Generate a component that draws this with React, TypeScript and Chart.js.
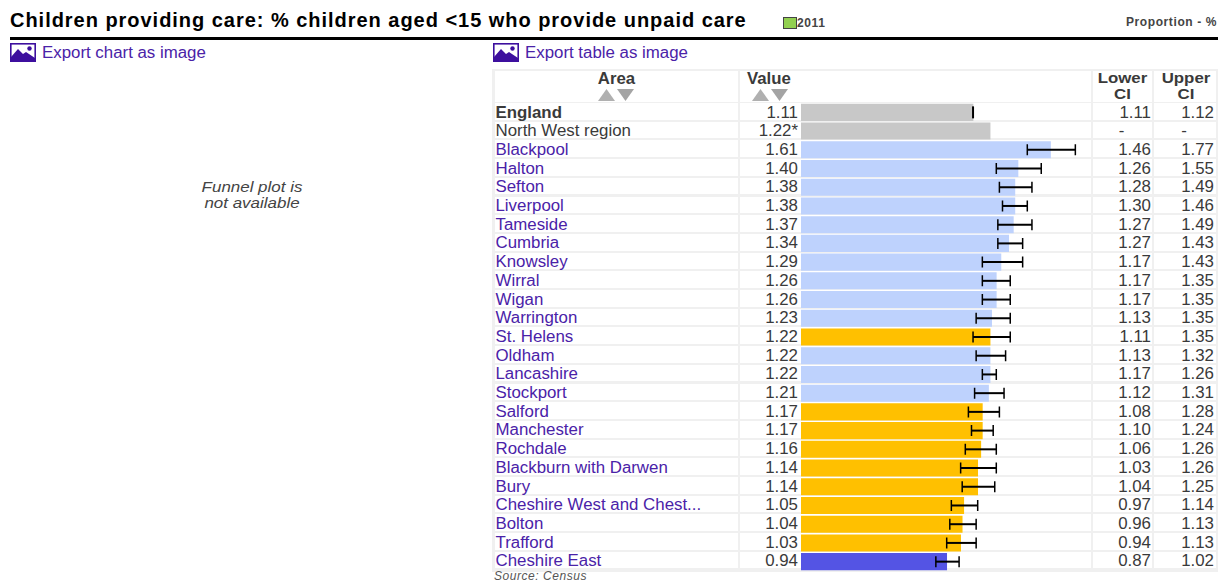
import React, { useEffect, useRef } from "react";
import { Chart, registerables } from "chart.js";

Chart.register(...registerables);

const areas = ["England","North West region","Blackpool","Halton","Sefton","Liverpool","Tameside","Cumbria","Knowsley","Wirral","Wigan","Warrington","St. Helens","Oldham","Lancashire","Stockport","Salford","Manchester","Rochdale","Blackburn with Darwen","Bury","Cheshire West and Chest...","Bolton","Trafford","Cheshire East"];
const values = [1.11,1.22,1.61,1.40,1.38,1.38,1.37,1.34,1.29,1.26,1.26,1.23,1.22,1.22,1.22,1.21,1.17,1.17,1.16,1.14,1.14,1.05,1.04,1.03,0.94];
const lowerCI: (number | null)[] = [1.11,null,1.46,1.26,1.28,1.30,1.27,1.27,1.17,1.17,1.17,1.13,1.11,1.13,1.17,1.12,1.08,1.10,1.06,1.03,1.04,0.97,0.96,0.94,0.87];
const upperCI: (number | null)[] = [1.12,null,1.77,1.55,1.49,1.46,1.49,1.43,1.43,1.35,1.35,1.35,1.35,1.32,1.26,1.31,1.28,1.24,1.26,1.26,1.25,1.14,1.13,1.13,1.02];
// g = benchmark grey, h = higher (light blue), s = similar (amber), l = lower (indigo)
const bands = ["g","g","h","h","h","h","h","h","h","h","h","h","s","h","h","h","s","s","s","s","s","s","s","s","l"];
const bandColours: Record<string, string> = { g: "#c8c8c8", h: "#bed2fd", s: "#ffc000", l: "#5454e4" };
const valueSuffix = ["", "*"];
const title = "Children providing care: % children aged <15 who provide unpaid care";

const FONT = '"Liberation Sans", Arial, sans-serif';
const ROW0 = 103;
const PITCH = 18.7;
const LINK = "#4a22a8";
const TEXT = "#3a3a3a";

const box = (l: number, t: number, w: number, h: number): React.CSSProperties => ({ position: "absolute", left: l, top: t, width: w, height: h });

function PictureIcon({ x, y }: { x: number; y: number }) {
  return (
    <svg style={{ position: "absolute", left: x, top: y }} width={26} height={19} viewBox="0 0 26 19">
      <rect x={0.8} y={0.8} width={24.4} height={17.4} fill="#fff" stroke="#3d0f9e" strokeWidth={1.6} />
      <path d="M1 18 L1 14 L8 6 L13 11 L16 9 L25 15 L25 18 Z" fill="#3d0f9e" />
      <circle cx={19.5} cy={5.5} r={2.2} fill="#3d0f9e" />
    </svg>
  );
}

function SortArrows({ x, y }: { x: number; y: number }) {
  return (
    <svg style={{ position: "absolute", left: x, top: y }} width={36} height={13} viewBox="0 0 36 13">
      <path d="M0 13 L8.5 1 L17 13 Z" fill="#b0b0b0" />
      <path d="M19 1 L36 1 L27.5 13 Z" fill="#a4a4a4" />
    </svg>
  );
}

export default function App() {
  const ref = useRef<HTMLCanvasElement>(null);
  useEffect(() => {
    const errorBars = {
      id: "errorBars",
      afterDatasetsDraw(chart: any) {
        const { ctx, scales } = chart;
        ctx.save();
        ctx.strokeStyle = "#000";
        areas.forEach((_, i) => {
          const lo = lowerCI[i];
          const hi = upperCI[i];
          if (lo === null || hi === null) return;
          const y = scales.y.getPixelForValue(i);
          const a = scales.x.getPixelForValue(lo);
          const b = scales.x.getPixelForValue(hi);
          if (i > 0) {
            ctx.lineWidth = 2;
            ctx.beginPath();
            ctx.moveTo(a, y); ctx.lineTo(b, y);
            ctx.stroke();
            ctx.lineWidth = 1.5;
            ctx.beginPath();
            ctx.moveTo(b, y - 5.5); ctx.lineTo(b, y + 5.5);
            ctx.moveTo(a, y - 5.5); ctx.lineTo(a, y + 5.5);
            ctx.stroke();
          } else {
            ctx.lineWidth = 2;
            ctx.beginPath();
            ctx.moveTo(a, y - 6); ctx.lineTo(a, y + 6);
            ctx.stroke();
          }
        });
        ctx.restore();
      },
    };
    const chart = new Chart(ref.current!, {
      type: "bar",
      data: {
        labels: areas,
        datasets: [{
          label: "2011",
          data: values,
          backgroundColor: bands.map((b) => bandColours[b]),
          barThickness: 16.4,
          borderWidth: 0,
        }],
      },
      options: {
        indexAxis: "y",
        animation: false,
        responsive: false,
        maintainAspectRatio: false,
        layout: { padding: 0 },
        plugins: { legend: { display: false }, tooltip: { enabled: false } },
        scales: {
          x: { type: "linear", display: false, min: 0, max: 1.871 },
          y: { type: "category", display: false, grid: { display: false } },
        },
      },
      plugins: [errorBars],
    } as any);
    return () => chart.destroy();
  }, []);

  const rowTop = (i: number) => ROW0 + PITCH * i;
  const textTop = (i: number) => rowTop(i) + 0.5;
  const cell: React.CSSProperties = { background: "#fff", position: "absolute" };
  const txt: React.CSSProperties = { fontSize: 16.85, lineHeight: "17px", whiteSpace: "nowrap", color: TEXT };
  const head: React.CSSProperties = { position: "absolute", top: 71, textAlign: "center", fontSize: 16.8, fontWeight: 700, lineHeight: "15px", color: TEXT };
  const headTwoLine: React.CSSProperties = { position: "absolute", top: 70, textAlign: "center", fontSize: 13.9, fontWeight: 700, lineHeight: "16px", color: TEXT, transform: "scaleX(1.21)" };

  return (
    <div style={{ position: "fixed", left: 0, top: 0, width: 1224, height: 582, overflow: "hidden", background: "#fff", fontFamily: FONT }}>
      <div style={{ position: "absolute", left: 10, top: 9, fontSize: 20, lineHeight: "22px", fontWeight: 700, color: "#000", whiteSpace: "nowrap", letterSpacing: 0.97 }}>{title}</div>
      <div style={{ ...box(783, 17, 14, 12), background: "#92d050", border: "1px solid #444", boxSizing: "border-box" }} />
      <div style={{ position: "absolute", left: 797, top: 16, fontSize: 12, lineHeight: "14px", fontWeight: 700, color: "#444", letterSpacing: 0.6 }}>2011</div>
      <div style={{ position: "absolute", right: 7, top: 14.5, fontSize: 12, lineHeight: "14px", fontWeight: 700, color: "#444", letterSpacing: 0.6 }}>Proportion - %</div>
      <div style={{ ...box(10, 37, 1208, 3), background: "#000" }} />

      <PictureIcon x={10} y={43} />
      <div style={{ position: "absolute", left: 42, top: 43.5, fontSize: 16.85, lineHeight: "17px", color: LINK, whiteSpace: "nowrap" }}>Export chart as image</div>
      <PictureIcon x={493} y={43} />
      <div style={{ position: "absolute", left: 525, top: 43.5, fontSize: 16.85, lineHeight: "17px", color: LINK, whiteSpace: "nowrap" }}>Export table as image</div>

      <div style={{ position: "absolute", left: 101.5, width: 300, top: 178.5, textAlign: "center", fontSize: 13.9, lineHeight: "16px", fontStyle: "italic", color: "#444", transform: "scaleX(1.22)" }}>
        Funnel plot is<br />not available
      </div>

      {/* table frame */}
      <div style={{ ...box(492, 69, 726, 503), background: "#f0f0f0" }} />
      <div style={{ ...cell, ...box(495, 71, 243, 31) }} />
      <div style={{ ...cell, ...box(740, 71, 351, 31) }} />
      <div style={{ ...cell, ...box(1093, 71, 59, 31) }} />
      <div style={{ ...cell, ...box(1154, 71, 62, 31) }} />
      <div style={{ ...head, left: 495, width: 243 }}>Area</div>
      <SortArrows x={598} y={88} />
      <div style={{ ...head, left: 747, textAlign: "left" }}>Value</div>
      <SortArrows x={752} y={88} />
      <div style={{ ...headTwoLine, left: 1093, width: 59 }}>Lower<br />CI</div>
      <div style={{ ...headTwoLine, left: 1155, width: 62 }}>Upper<br />CI</div>

      {areas.map((a, i) => (
        <React.Fragment key={a}>
          <div style={{ ...cell, ...box(495, rowTop(i), 243, 16.7) }} />
          <div style={{ ...cell, ...box(740, rowTop(i), 351, 16.7) }} />
          <div style={{ ...cell, ...box(1093, rowTop(i), 59, 16.7) }} />
          <div style={{ ...cell, ...box(1154, rowTop(i), 62, 16.7) }} />
          <div style={{ ...txt, position: "absolute", left: 495.5, top: textTop(i), fontWeight: i === 0 ? 700 : 400, color: i < 2 ? TEXT : LINK }}>{a}</div>
          <div style={{ ...txt, position: "absolute", right: 1224 - 798, top: textTop(i) }}>{values[i].toFixed(2)}{valueSuffix[i === 1 ? 1 : 0]}</div>
          {lowerCI[i] === null ? (
            <div style={{ ...txt, position: "absolute", left: 1093, width: 57, textAlign: "center", top: textTop(i) }}>-</div>
          ) : (
            <div style={{ ...txt, position: "absolute", right: 1224 - 1151, top: textTop(i) }}>{lowerCI[i]!.toFixed(2)}</div>
          )}
          {upperCI[i] === null ? (
            <div style={{ ...txt, position: "absolute", left: 1154, width: 60, textAlign: "center", top: textTop(i) }}>-</div>
          ) : (
            <div style={{ ...txt, position: "absolute", right: 1224 - 1214, top: textTop(i) }}>{upperCI[i]!.toFixed(2)}</div>
          )}
        </React.Fragment>
      ))}

      <canvas ref={ref} width={290} height={468} style={{ position: "absolute", left: 801, top: 102.5, width: 290, height: 468 }} />

      <div style={{ position: "absolute", left: 494, top: 570, fontSize: 12, lineHeight: "12px", fontStyle: "italic", color: "#555", letterSpacing: 0.55, whiteSpace: "nowrap" }}>Source: Census</div>
    </div>
  );
}
